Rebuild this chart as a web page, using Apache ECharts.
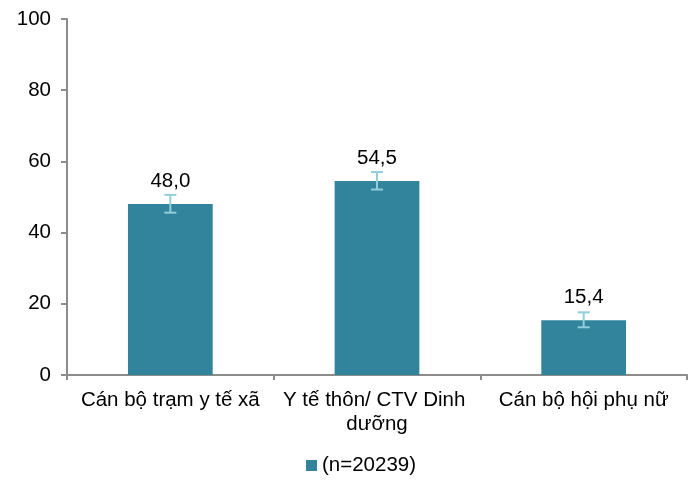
<!DOCTYPE html>
<html><head><meta charset="utf-8">
<script src="https://cdn.jsdelivr.net/npm/echarts@6/dist/echarts.min.js"></script>
<style>html,body{margin:0;padding:0;background:#fff}#c{width:697px;height:488px}</style>
</head><body><div id="c"></div>
<script>
const categories = ["Cán bộ trạm y tế xã", "Y tế thôn/ CTV Dinh dưỡng", "Cán bộ hội phụ nữ"];
const values = [48.0, 54.5, 15.4];
const errLow = [45.6, 52.1, 13.4];
const errHigh = [50.6, 57.0, 17.6];
const seriesName = "(n=20239)";
const yTicks = [0, 20, 40, 60, 80, 100];

const font = "Liberation Sans, Arial, sans-serif";
const fs = 20.5;
function wrapLabel(s) {
  if (s.length <= 20) return s;
  const i = s.lastIndexOf(' ');
  return s.slice(0, i + 1) + '\n' + s.slice(i + 1);
}
const chart = echarts.init(document.getElementById('c'));
chart.setOption({
  animation: false,
  grid: {left: 67, right: 10, top: 19, bottom: 113},
  legend: {
    data: [seriesName], bottom: 7, left: 301, itemWidth: 11, itemHeight: 11, itemGap: 4,
    icon: 'rect',
    textStyle: {fontFamily: font, fontSize: fs, color: '#000'}
  },
  xAxis: {
    type: 'category', data: categories,
    axisLine: {lineStyle: {color: '#8c8c8c', width: 2}},
    axisTick: {show: true, length: 5, lineStyle: {color: '#8c8c8c', width: 2}},
    axisLabel: {fontFamily: font, fontSize: fs, color: '#000', margin: 13, interval: 0,
      overflow: 'none', lineHeight: 24, formatter: wrapLabel}
  },
  yAxis: {
    type: 'value', min: 0, max: 100, interval: 20,
    axisLine: {show: true, lineStyle: {color: '#8c8c8c', width: 2}},
    axisTick: {show: true, length: 6, lineStyle: {color: '#8c8c8c', width: 2}},
    splitLine: {show: false},
    axisLabel: {fontFamily: font, fontSize: fs, color: '#000', margin: 16,
      formatter: v => yTicks.includes(v) ? String(v) : ''}
  },
  series: [
    {
      name: seriesName, type: 'bar', data: values, barWidth: '41%',
      itemStyle: {color: '#31849B'},
      label: {show: true, position: 'top', distance: 12, fontFamily: font, fontSize: fs, color: '#000',
        formatter: p => p.value.toFixed(1).replace('.', ',')}
    },
    {
      type: 'custom', name: 'err', silent: true, z: 10,
      data: categories.map((c, i) => [i, errLow[i], errHigh[i]]),
      encode: {x: 0, y: [1, 2]},
      renderItem: function (params, api) {
        const lo = api.coord([api.value(0), api.value(1)]);
        const hi = api.coord([api.value(0), api.value(2)]);
        const hw = 6;
        const style = {stroke: '#92CDDC', lineWidth: 2};
        return {type: 'group', children: [
          {type: 'line', shape: {x1: hi[0], y1: hi[1], x2: lo[0], y2: lo[1]}, style},
          {type: 'line', shape: {x1: hi[0]-hw, y1: hi[1], x2: hi[0]+hw, y2: hi[1]}, style},
          {type: 'line', shape: {x1: lo[0]-hw, y1: lo[1], x2: lo[0]+hw, y2: lo[1]}, style}
        ]};
      }
    }
  ]
});
</script></body></html>
